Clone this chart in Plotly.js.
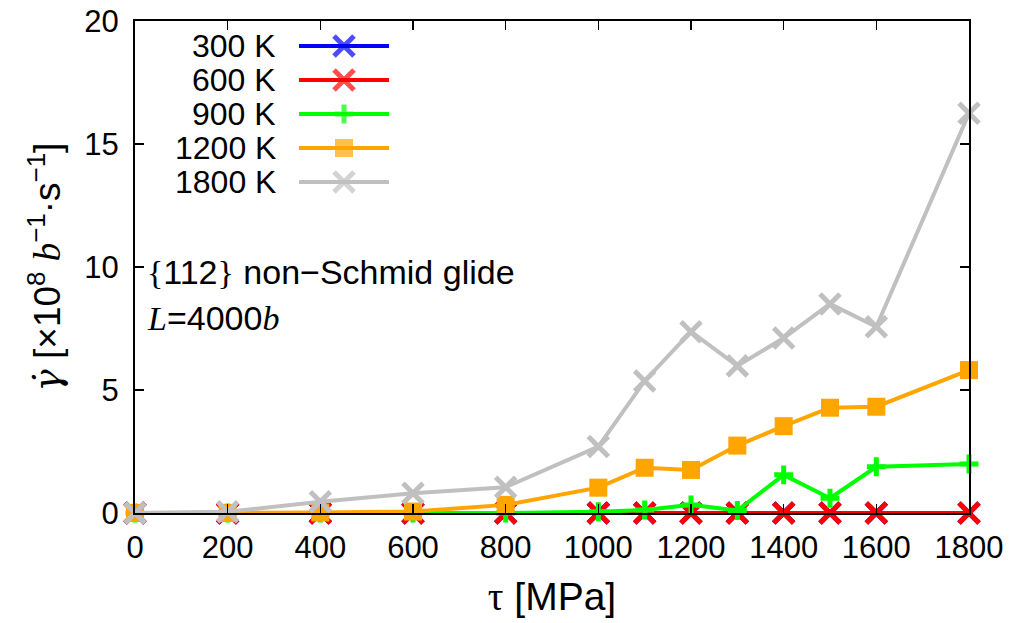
<!DOCTYPE html>
<html><head><meta charset="utf-8">
<script src="https://cdn.plot.ly/plotly-3.0.1.min.js"></script>
<style>body{margin:0;background:#fff}#chart{width:1011px;height:623px}</style>
</head><body><div id="chart"></div>
<script>
// ---- data ----
const tau = [0, 200, 400, 600, 800, 1000, 1100, 1200, 1300, 1400, 1500, 1600, 1800];
const rate300K  = [0, 0, 0, 0, 0, 0, 0, 0, 0, 0, 0, 0, 0];
const rate600K  = [0, 0, 0, 0, 0, 0, 0, 0, 0, 0, 0, 0, 0];
const rate900K  = [0, 0, 0, 0, 0, 0.05, 0.12, 0.33, 0.1, 1.55, 0.6, 1.88, 1.99];
const rate1200K = [0, 0, 0.02, 0.06, 0.33, 1.03, 1.84, 1.75, 2.74, 3.53, 4.28, 4.32, 5.81];
const rate1800K = [0, 0.05, 0.46, 0.8, 1.05, 2.7, 5.37, 7.37, 5.98, 7.11, 8.5, 7.57, 16.25];
const seriesNames = ['300 K', '600 K', '900 K', '1200 K', '1800 K'];
const xTicks = [0, 200, 400, 600, 800, 1000, 1200, 1400, 1600, 1800];
const yTicks = [0, 5, 10, 15, 20];

const colors = ['#0000ff', '#ff0000', '#00ff00', '#ffa500', '#c0c0c0'];
const symbols = ['x-thin-open', 'x-thin-open', 'cross-thin-open', 'square', 'x-thin-open'];
const sizes = [20, 20, 13.5, 18, 20];
const allData = [rate300K, rate600K, rate900K, rate1200K, rate1800K];

const FONT = 'Liberation Sans, Arial, sans-serif';

const traces = [];
allData.forEach((ys, i) => {
  const isSq = symbols[i] === 'square';
  traces.push({
    x: tau, y: ys, type: 'scatter', mode: 'lines+markers', name: seriesNames[i],
    showlegend: false, cliponaxis: false,
    line: {color: colors[i], width: 4},
    marker: {symbol: symbols[i], size: sizes[i], color: colors[i],
             line: {color: colors[i], width: isSq ? 0 : 5}}
  });
});

// custom gnuplot-style key on a hidden overlay axis
const keyLineX = [164, 209, 254];
const annotations = [];
seriesNames.forEach((nm, i) => {
  const isSq = symbols[i] === 'square';
  traces.push({
    x: keyLineX, y: [i, i, i], xaxis: 'x2', yaxis: 'y2', type: 'scatter',
    mode: 'lines+markers', showlegend: false, hoverinfo: 'skip', cliponaxis: false,
    line: {color: colors[i], width: 4},
    marker: {symbol: symbols[i], size: [0, sizes[i], 0], color: colors[i],
             line: {color: colors[i], width: isSq ? 0 : 5}}
  });
  annotations.push({
    xref: 'x2', yref: 'y2', x: 143, y: i, text: nm, showarrow: false,
    xanchor: 'right', yanchor: 'middle', font: {family: FONT, size: 32, color: '#000'}
  });
});

annotations.push({
  xref: 'paper', yref: 'paper', x: 0.012, y: 0.49, xanchor: 'left', yanchor: 'middle',
  showarrow: false,
  text: '<span style="font-family:Liberation Serif">{</span>112<span style="font-family:Liberation Serif">}</span> non\u2212Schmid glide',
  font: {family: FONT, size: 34, color: '#000'}
});
annotations.push({
  xref: 'paper', yref: 'paper', x: 0.012, y: 0.396, xanchor: 'left', yanchor: 'middle',
  showarrow: false,
  text: '<span style="font-family:Liberation Serif"><i>L</i></span>=4000<span style="font-family:Liberation Serif"><i>b</i></span>',
  font: {family: FONT, size: 34, color: '#000'}
});

const layout = {
  width: 1011, height: 623,
  margin: {l: 135, r: 42, t: 21, b: 110},
  paper_bgcolor: '#fff', plot_bgcolor: '#fff',
  showlegend: false,
  font: {family: FONT, size: 31, color: '#000'},
  xaxis: {
    range: [0, 1800], tickvals: xTicks, ticktext: xTicks.map(String),
    ticks: 'inside', ticklen: 9, tickwidth: 1.5, tickcolor: '#000',
    showline: true, linecolor: '#000', linewidth: 2, mirror: 'allticks',
    showgrid: false, zeroline: false, ticklabelstandoff: 6,
    tickfont: {family: FONT, size: 31},
    title: {text: '<span style="font-family:Liberation Serif">\u03c4</span> [MPa]',
            font: {family: FONT, size: 39}, standoff: 18}
  },
  yaxis: {
    range: [0, 20], tickvals: yTicks, ticktext: yTicks.map(String),
    ticks: 'inside', ticklen: 9, tickwidth: 1.5, tickcolor: '#000',
    showline: true, linecolor: '#000', linewidth: 2, mirror: 'allticks',
    showgrid: false, zeroline: false, ticklabelstandoff: 8,
    tickfont: {family: FONT, size: 31},
    title: {text: '<span style="font-family:DejaVu Serif"><i>\u03b3\u0307</i></span>\u00a0[\u00d710<sup>8</sup> <span style="font-family:Liberation Serif"><i>b</i></span><sup>\u22121</sup>\u00b7s<sup>\u22121</sup>]',
            font: {family: FONT, size: 37}, standoff: 12}
  },
  xaxis2: {overlaying: 'x', range: [0, 834], visible: false, fixedrange: true},
  yaxis2: {overlaying: 'y', range: [13.735, -0.735], visible: false, fixedrange: true},
  annotations: annotations
};

Plotly.newPlot('chart', traces, layout, {displayModeBar: false, staticPlot: true});
</script></body></html>
